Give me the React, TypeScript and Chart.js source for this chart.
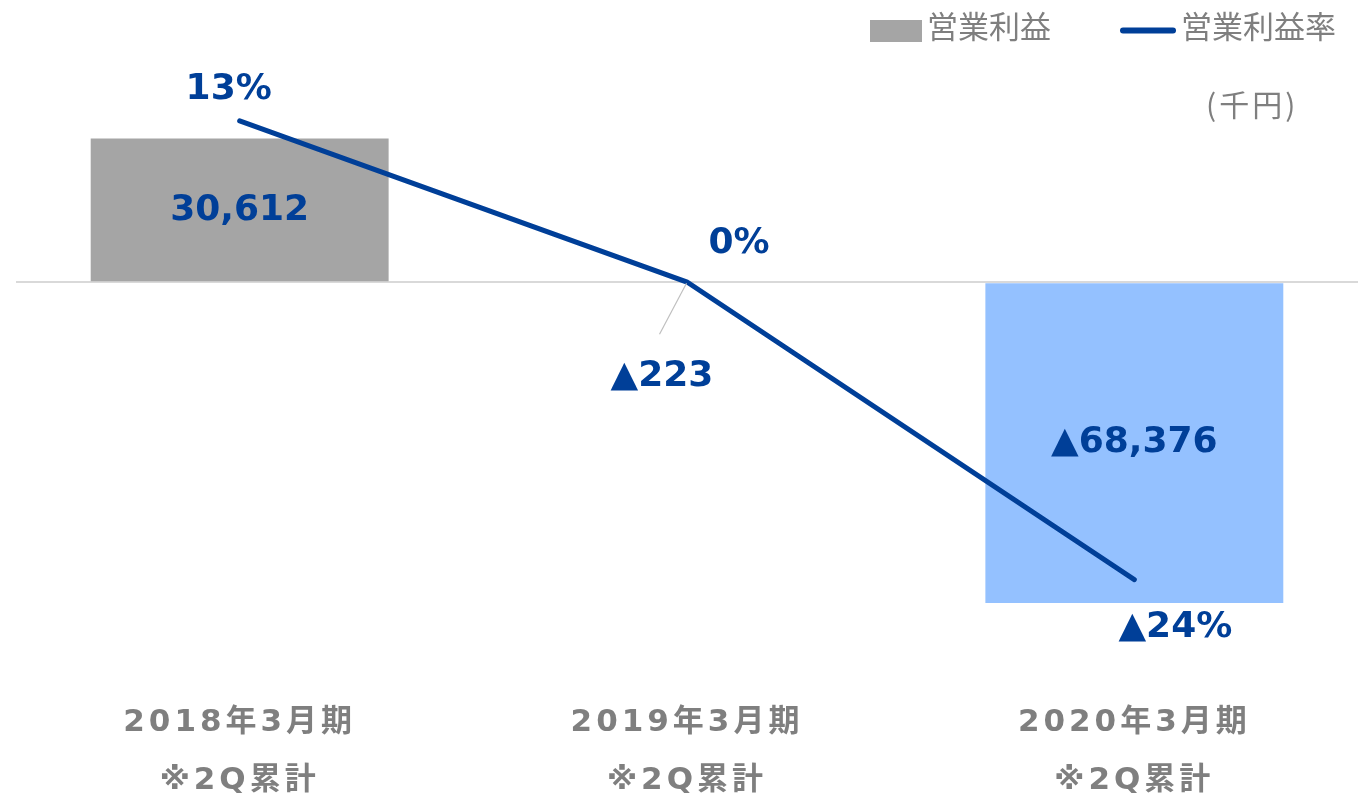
import React, { useEffect, useRef } from "react";
import { Chart, registerables } from "chart.js";

Chart.register(...registerables);

const categories: string[][] = [
  ["2018年3月期", "※2Q累計"],
  ["2019年3月期", "※2Q累計"],
  ["2020年3月期", "※2Q累計"],
];
const operatingProfit: number[] = [30612, -223, -68376];
const operatingMargin: number[] = [13, 0, -24];
const barLegendLabel = "営業利益";
const lineLegendLabel = "営業利益率";
const unitLabel = "(千円)";

const BLUE = "#003f98";
const GRAY_TEXT = "#7f7f7f";
const BAR_COLORS = ["#a5a5a5", "#c8c8c8", "#94c1ff"];
const LABEL_FONT = "bold 36px 'DejaVu Sans', 'Noto Sans CJK JP', sans-serif";
const CJK_FONT = "31px 'Noto Sans CJK JP', sans-serif";

// label offsets relative to line points (px)
const MARGIN_OFFSETS = [
  [-11, -31],
  [52, -38],
  [41, 48],
];

const fmtNum = (v: number) =>
  (v < 0 ? "▲" : "") + Math.abs(v).toLocaleString("en-US");
const fmtPct = (v: number) => (v < 0 ? "▲" : "") + Math.abs(v) + "%";

const spacingPlugin = {
  id: "spacing",
  beforeDraw(chart: any) {
    (chart.ctx as any).letterSpacing = "4px";
  },
  beforeDatasetsDraw(chart: any) {
    (chart.ctx as any).letterSpacing = "0px";
  },
};

const labelsPlugin = {
  id: "labels",
  afterDatasetsDraw(chart: any) {
    const ctx = chart.ctx as CanvasRenderingContext2D;
    (ctx as any).letterSpacing = "0px";
    const x = chart.scales.x;
    const y = chart.scales.y;
    const y2 = chart.scales.y2;
    ctx.save();
    ctx.font = LABEL_FONT;
    ctx.fillStyle = BLUE;
    ctx.textAlign = "center";
    ctx.textBaseline = "middle";
    operatingProfit.forEach((v, i) => {
      const px = x.getPixelForValue(i);
      const zero = y.getPixelForValue(0);
      const top = y.getPixelForValue(v);
      if (Math.abs(top - zero) > 60) {
        ctx.fillText(fmtNum(v), px, (top + zero) / 2);
      } else {
        const lx = px - 25;
        const ly = zero + 94;
        ctx.save();
        ctx.strokeStyle = "#bfbfbf";
        ctx.lineWidth = 1.2;
        ctx.beginPath();
        ctx.moveTo(px - 0.5, zero + 1);
        ctx.lineTo(px - 27.5, zero + 52);
        ctx.stroke();
        ctx.restore();
        ctx.fillText(fmtNum(v), lx, ly);
      }
    });
    operatingMargin.forEach((v, i) => {
      const px = x.getPixelForValue(i);
      const py = y2.getPixelForValue(v);
      const [dx, dy] = MARGIN_OFFSETS[i];
      ctx.fillText(fmtPct(v), px + dx, py + dy);
    });
    ctx.restore();
  },
  afterDraw(chart: any) {
    const ctx = chart.ctx as CanvasRenderingContext2D;
    (ctx as any).letterSpacing = "0px";
    ctx.save();
    ctx.fillStyle = BAR_COLORS[0];
    ctx.fillRect(870, 20, 52, 22);
    ctx.font = CJK_FONT;
    ctx.fillStyle = GRAY_TEXT;
    ctx.textAlign = "left";
    ctx.textBaseline = "middle";
    ctx.fillText(barLegendLabel, 927, 26);
    ctx.strokeStyle = BLUE;
    ctx.lineWidth = 6;
    ctx.lineCap = "round";
    ctx.beginPath();
    ctx.moveTo(1123, 30.5);
    ctx.lineTo(1173, 30.5);
    ctx.stroke();
    ctx.fillText(lineLegendLabel, 1181, 26);
    ctx.font = "30px 'Noto Sans CJK JP', sans-serif";
    (ctx as any).letterSpacing = "3px";
    ctx.textAlign = "left";
    ctx.fillText(unitLabel, 1206, 105);
    (ctx as any).letterSpacing = "0px";
    ctx.restore();
  },
};

export default function App() {
  const ref = useRef<HTMLCanvasElement | null>(null);
  useEffect(() => {
    if (!ref.current) return;
    const chart = new Chart(ref.current, {
      type: "bar",
      data: {
        labels: categories,
        datasets: [
          {
            type: "line",
            label: lineLegendLabel,
            data: operatingMargin,
            yAxisID: "y2",
            borderColor: BLUE,
            borderWidth: 5,
            borderCapStyle: "round",
            pointRadius: 0,
            tension: 0,
            order: 0,
          } as any,
          {
            type: "bar",
            label: barLegendLabel,
            data: operatingProfit,
            yAxisID: "y",
            backgroundColor: BAR_COLORS,
            categoryPercentage: 1,
            barPercentage: 0.666,
            order: 1,
          },
        ],
      },
      options: {
        animation: false,
        responsive: true,
        maintainAspectRatio: false,
        layout: { padding: { left: 16, right: 1, top: 70, bottom: 0 } },
        plugins: { legend: { display: false }, tooltip: { enabled: false } },
        scales: {
          x: {
            grid: { display: false, drawTicks: false },
            border: { display: false },
            ticks: {
              color: GRAY_TEXT,
              padding: 34,
              font: {
                family: "'DejaVu Sans', 'Noto Sans CJK JP', sans-serif",
                size: 31,
                weight: "bold",
                lineHeight: 1.87,
              },
              maxRotation: 0,
              autoSkip: false,
            },
            afterFit(scale: any) {
              scale.height = 138;
            },
          },
          y: {
            min: -80500,
            max: 45200,
            position: "left",
            ticks: { display: false },
            border: { display: false },
            grid: {
              drawTicks: false,
              color: "#d9d9d9",
              lineWidth: 2,
            },
            afterBuildTicks(scale: any) {
              scale.ticks = [{ value: 0 }];
            },
            afterFit(scale: any) {
              scale.width = 0;
            },
          },
          y2: {
            min: -30.48,
            max: 17.1,
            position: "right",
            display: false,
            grid: { display: false },
          },
        },
      },
      plugins: [spacingPlugin, labelsPlugin],
    });
    return () => chart.destroy();
  }, []);
  return (
    <div
      style={{
        position: "fixed",
        left: 0,
        top: 0,
        width: 1359,
        height: 798,
        background: "#fff",
      }}
    >
      <canvas ref={ref} />
    </div>
  );
}
